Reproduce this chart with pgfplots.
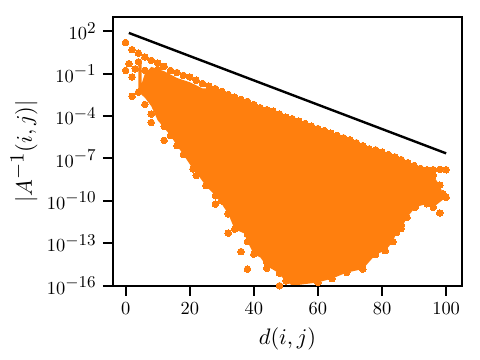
\documentclass[border=0pt]{standalone}
\usepackage{pgfplots}
\pgfplotsset{compat=1.18}
\DeclareMathSizes{10}{10}{9}{7}
\definecolor{mplorange}{HTML}{FF7F0E}
\begin{document}
\begin{tikzpicture}
\useasboundingbox (0,0) rectangle (480bp,360bp);
\begin{axis}[
    at={(113bp,74.3bp)}, anchor=south west,
    scale only axis, width=349bp, height=268.4bp,
    xmin=-3.95, xmax=104.95,
    ymode=log, ymin=1e-16, ymax=970,
    xtick={0,20,40,60,80,100},
    ytick={1e2,1e-1,1e-4,1e-7,1e-10,1e-13,1e-16},
    yminorticks=false,
    tick align=outside, tickpos=left,
    major tick length=10bp,
    every tick/.style={black, line width=2bp},
    axis line style={line width=2bp},
    axis on top,
    tick label style={scale=1.85},
    xlabel={$d(i,j)$}, ylabel={$|A^{-1}(i,j)|$},
    label style={scale=2.25},
    ylabel style={at={(axis description cs:-0.255,0.5)}, anchor=center},
]
% dense core of the point cloud, where single markers merge: drawn as its outline
\addplot[fill=mplorange, draw=none, forget plot] coordinates {
    (5,.02)(6,.1)(8,.3)(12,.15)(16,.05)(20,.025)(24,9e-3)
    (28,8.7e-3)(30,5.6e-3)(32,3.4e-3)(34,2.2e-3)(36,1.5e-3)(38,1.1e-3)(40,6.6e-4)
    (42,3.9e-4)(44,2.8e-4)(46,2.2e-4)(48,1.4e-4)(50,8.3e-5)(52,6.5e-5)(54,4.4e-5)(56,3e-5)(58,1.9e-5)(60,1.3e-5)
    (62,9.5e-6)(64,6.2e-6)(66,4.3e-6)(68,2.9e-6)(70,2.1e-6)(72,1.3e-6)(74,8.1e-7)(76,4.8e-7)(78,4.1e-7)(80,2.8e-7)
    (82,1.9e-7)(84,1.3e-7)(86,8.3e-8)(88,5e-8)(90,3.2e-8)(92,2e-8)(94,1.6e-8)(96,1.6e-8)
    (96,6e-9)(98,1.3e-9)(99,3.2e-10)(100,1.8e-10)(98,8e-11)(96,3.5e-11)(94,6.3e-11)(90.4,3.5e-11)(87.8,6.8e-12)(86,1.1e-12)(84.5,5.9e-13)
    (83.4,1.3e-13)(81,3e-14)(78,1.6e-14)(74,1.5e-15)(69,8.5e-16)(64.4,3.2e-16)(60,1.7e-16)(52,1e-16)(50,2.2e-16)
    (47,1e-15)(44,2.5e-15)(42,1e-14)(40,1.7e-14)(38,1.3e-13)(37,5e-13)(34,1e-12)(32,1.2e-11)(30,6e-11)(28,2.3e-10)
    (25,1.2e-9)(22,1e-8)(21,1.8e-8)(18,1.9e-7)(16,8.1e-7)(14,4.2e-6)(10,5e-5)(8,5e-4)(6,2e-3)(4,5e-3)
} \closedcycle;
\addplot[only marks, mark=*, mark size=3.3bp, mark options={fill=mplorange, draw=mplorange, line width=0pt}, forget plot] coordinates {
    % top row
    (0,16)(2,5)(4,2.8)(6,1.5)(8,.87)(10,.56)(12,.33)(14,.17)(16,.12)(18,.076)(20,.058)
    (22,.034)(24,.02)(26,.013)(28,8.7e-3)(30,5.6e-3)(32,3.4e-3)(34,2.2e-3)(36,1.5e-3)(38,1.1e-3)(40,6.6e-4)
    (42,3.9e-4)(44,2.8e-4)(46,2.2e-4)(48,1.4e-4)(50,8.3e-5)(52,6.5e-5)(54,4.4e-5)(56,3e-5)(58,1.9e-5)(60,1.3e-5)
    (62,9.5e-6)(64,6.2e-6)(66,4.3e-6)(68,2.9e-6)(70,2.1e-6)(72,1.3e-6)(74,8.1e-7)(76,4.8e-7)(78,4.1e-7)(80,2.8e-7)
    (82,1.9e-7)(84,1.3e-7)(86,8.3e-8)(88,5e-8)(90,3.2e-8)(92,2e-8)(94,1.6e-8)(96,1.6e-8)(98,1.7e-8)(100,1.6e-8)
    % left side
    (0,.17)(1,.51)(3,.22)(4,.68)(6,.17)(2,.058)(4,5e-3)(2,2.5e-3)(6,6.6e-4)(8,1.4e-4)(8,3.5e-5)(12,1.9e-5)(12,1.9e-6)
    (14,4.2e-6)(16,8.1e-7)(18,1.9e-7)(21,1.8e-8)(22,6.2e-9)(25,1.2e-9)(28,2.3e-10)(28,6e-11)(32,1.2e-11)
    (34,1e-12)(32,5.2e-13)(38,4.5e-13)(38,1.3e-13)(36,2.6e-14)(40,1.7e-14)(44,4.4e-15)(44,1.7e-15)(38,1.5e-15)
    (48,7.8e-16)(50,2.2e-16)(48,1e-16)
    % right side
    (96,6.3e-9)(98,1.3e-9)(99,3.2e-10)(100,1.8e-10)(98,1.4e-11)(96,3.5e-11)(94,6.3e-11)(90.4,3.5e-11)(87.8,6.8e-12)
    (86,1.1e-12)(84.5,5.9e-13)(83.4,1.3e-13)(81,3e-14)(78,1.6e-14)(74,1.5e-15)(69,8.5e-16)(64.4,3.2e-16)(60,1.7e-16)
    % interior
    (10,.2)(10,.03)(10,4e-3)(10,3e-4)
    (14,.03)(14,3e-3)(14,3e-4)(14,3e-5)
    (18,.01)(18,1e-3)(18,1e-4)(18,1e-5)(18,1e-6)
    (22,5e-3)(22,5e-4)(22,5e-5)(22,5e-6)(22,5e-7)(22,5e-8)
    (26,2e-3)(26,2e-4)(26,2e-5)(26,2e-6)(26,2e-7)(26,2e-8)(26,2e-9)
    (30,1e-3)(30,1e-4)(30,1e-5)(30,1e-6)(30,1e-7)(30,1e-8)(30,1e-9)(30,1e-10)
    (34,5e-4)(34,5e-5)(34,5e-6)(34,5e-7)(34,5e-8)(34,5e-9)(34,5e-10)(34,5e-11)
    (38,2e-4)(38,2e-5)(38,2e-6)(38,2e-7)(38,2e-8)(38,2e-9)(38,2e-10)(38,2e-11)(38,2e-12)
    (42,1e-4)(42,1e-5)(42,1e-6)(42,1e-7)(42,1e-8)(42,1e-9)(42,1e-10)(42,1e-11)(42,1e-12)(42,1e-13)
    (46,5e-5)(46,5e-6)(46,5e-7)(46,5e-8)(46,5e-9)(46,5e-10)(46,5e-11)(46,5e-12)(46,5e-13)(46,5e-14)(46,5e-15)
    (50,2e-5)(50,2e-6)(50,2e-7)(50,2e-8)(50,2e-9)(50,2e-10)(50,2e-11)(50,2e-12)(50,2e-13)(50,2e-14)(50,2e-15)
    (54,1e-5)(54,1e-6)(54,1e-7)(54,1e-8)(54,1e-9)(54,1e-10)(54,1e-11)(54,1e-12)(54,1e-13)(54,1e-14)(54,1e-15)
    (58,5e-6)(58,5e-7)(58,5e-8)(58,5e-9)(58,5e-10)(58,5e-11)(58,5e-12)(58,5e-13)(58,5e-14)(58,5e-15)(58,5e-16)
    (62,2e-6)(62,2e-7)(62,2e-8)(62,2e-9)(62,2e-10)(62,2e-11)(62,2e-12)(62,2e-13)(62,2e-14)(62,2e-15)
    (66,1e-6)(66,1e-7)(66,1e-8)(66,1e-9)(66,1e-10)(66,1e-11)(66,1e-12)(66,1e-13)(66,1e-14)(66,1e-15)
    (70,5e-7)(70,5e-8)(70,5e-9)(70,5e-10)(70,5e-11)(70,5e-12)(70,5e-13)(70,5e-14)(70,5e-15)
    (74,2e-7)(74,2e-8)(74,2e-9)(74,2e-10)(74,2e-11)(74,2e-12)(74,2e-13)(74,2e-14)
    (78,1e-7)(78,1e-8)(78,1e-9)(78,1e-10)(78,1e-11)(78,1e-12)(78,1e-13)
    (82,5e-8)(82,5e-9)(82,5e-10)(82,5e-11)(82,5e-12)(82,5e-13)
    (86,2e-8)(86,2e-9)(86,2e-10)(86,2e-11)(86,2e-12)
    (90,1e-8)(90,1e-9)(90,1e-10)
    (94,5e-9)(94,5e-10)
};
\addplot[black, line width=2.4bp, forget plot] coordinates {(1,76) (100,2.3e-7)};
\end{axis}
\end{tikzpicture}
\end{document}
